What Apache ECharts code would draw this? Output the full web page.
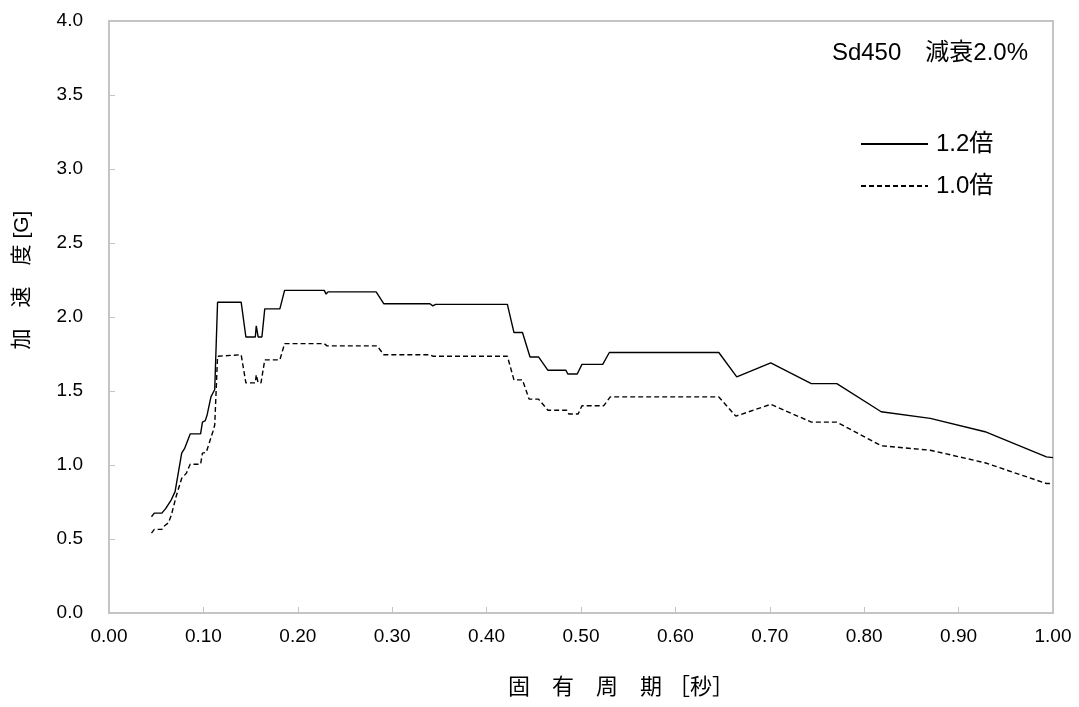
<!DOCTYPE html>
<html>
<head>
<meta charset="utf-8">
<script src="https://cdn.jsdelivr.net/npm/echarts@6/dist/echarts.min.js"></script>
<style>
  html, body { margin: 0; padding: 0; background: #fff; }
  #main { width: 1079px; height: 707px; }
</style>
</head>
<body>
<div id="main"></div>
<script>
// 1.2倍 curve
const periods12 = [0.045, 0.048, 0.056, 0.060, 0.062, 0.066, 0.070, 0.077, 0.080, 0.086,
  0.097, 0.099, 0.102, 0.104, 0.108, 0.112, 0.115, 0.140, 0.145, 0.155,
  0.156, 0.158, 0.162, 0.165, 0.181, 0.186, 0.228, 0.230, 0.232, 0.283,
  0.291, 0.305, 0.307, 0.309, 0.340, 0.343, 0.346, 0.422, 0.429, 0.438,
  0.446, 0.455, 0.465, 0.484, 0.486, 0.496, 0.501, 0.523, 0.530, 0.646,
  0.665, 0.701, 0.744, 0.771, 0.818, 0.870, 0.928, 0.993, 1.000];
const accel12 = [0.65, 0.675, 0.675, 0.705, 0.705, 0.765, 0.82, 1.08, 1.11, 1.21,
  1.21, 1.29, 1.30, 1.34, 1.46, 1.51, 2.10, 2.10, 1.865, 1.865,
  1.94, 1.865, 1.865, 2.055, 2.055, 2.18, 2.18, 2.155, 2.17, 2.17,
  2.09, 2.09, 2.095, 2.09, 2.09, 2.075, 2.085, 2.085, 1.895, 1.895,
  1.73, 1.73, 1.64, 1.64, 1.615, 1.615, 1.68, 1.68, 1.76, 1.76,
  1.595, 1.69, 1.55, 1.55, 1.36, 1.315, 1.225, 1.055, 1.05];

// 1.0倍 curve
const periods10 = [0.045, 0.048, 0.056, 0.059, 0.063, 0.066, 0.071, 0.077, 0.082, 0.086,
  0.097, 0.099, 0.103, 0.106, 0.110, 0.112, 0.115, 0.116, 0.140, 0.145,
  0.155, 0.156, 0.158, 0.161, 0.165, 0.181, 0.186, 0.228, 0.231, 0.284,
  0.291, 0.340, 0.343, 0.422, 0.429, 0.438, 0.445, 0.455, 0.465, 0.485,
  0.487, 0.497, 0.501, 0.524, 0.531, 0.646, 0.664, 0.701, 0.744, 0.771,
  0.818, 0.870, 0.928, 0.993, 1.000];
const accel10 = [0.54, 0.565, 0.565, 0.59, 0.61, 0.66, 0.785, 0.91, 0.945, 1.005,
  1.005, 1.08, 1.085, 1.145, 1.225, 1.27, 1.735, 1.745, 1.745, 1.555,
  1.555, 1.61, 1.555, 1.555, 1.71, 1.71, 1.82, 1.82, 1.805, 1.805,
  1.745, 1.745, 1.735, 1.735, 1.575, 1.575, 1.445, 1.445, 1.37, 1.37,
  1.345, 1.345, 1.40, 1.40, 1.46, 1.46, 1.33, 1.41, 1.29, 1.29,
  1.13, 1.10, 1.015, 0.875, 0.875];

const seriesNames = ["1.2倍", "1.0倍"];
const chartTitle = "Sd450\u3000減衰2.0%";
const xName = "固\u3000有\u3000周\u3000期 ［秒］";
const yName = "加\u3000速\u3000度 [G]";

var pairs12 = [];
for (var i = 0; i < periods12.length; i++) {
  pairs12.push([periods12[i], accel12[i]]);
}
var pairs10 = [];
for (var j = 0; j < periods10.length; j++) {
  pairs10.push([periods10[j], accel10[j]]);
}

const font = "'Liberation Sans', 'Noto Sans CJK JP', sans-serif";
const axisGray = "#c4c4c4";

const myChart = echarts.init(document.getElementById("main"));
var option = {
  animation: false,
  textStyle: { fontFamily: font, color: "#000" },
  title: {
    text: chartTitle,
    right: 46,
    top: 36,
    textStyle: { fontFamily: font, fontSize: 24, fontWeight: "normal", color: "#000" },
  },
  legend: {
    orient: "vertical",
    left: 855,
    top: 127,
    itemWidth: 67,
    itemHeight: 14,
    itemGap: 18,
    itemStyle: { opacity: 0 },
    textStyle: { fontFamily: font, fontSize: 24, color: "#000", padding: [0, 0, 0, 3] },
    data: seriesNames,
  },
  grid: {
    show: true,
    left: 109,
    right: 26,
    top: 21,
    bottom: 94,
    borderColor: axisGray,
    borderWidth: 2,
  },
  xAxis: {
    type: "value",
    min: 0,
    max: 1,
    interval: 0.1,
    name: xName,
    nameLocation: "middle",
    nameGap: 64,
    nameTextStyle: { fontFamily: font, fontSize: 22, color: "#000", padding: [0, 0, 0, 80] },
    axisLine: { show: true, lineStyle: { color: axisGray, width: 2 } },
    axisTick: { show: true, inside: true, length: 6, lineStyle: { color: axisGray, width: 1 } },
    axisLabel: {
      fontFamily: font,
      fontSize: 19,
      color: "#000",
      margin: 14,
      formatter: function (v) { return v.toFixed(2); },
    },
    splitLine: { show: false },
  },
  yAxis: {
    type: "value",
    min: 0,
    max: 4,
    interval: 0.5,
    name: yName,
    nameLocation: "middle",
    nameGap: 76,
    nameTextStyle: { fontFamily: font, fontSize: 21, color: "#000", padding: [0, 0, 0, 74] },
    axisLine: { show: true, lineStyle: { color: axisGray, width: 2 } },
    axisTick: { show: true, inside: true, length: 6, lineStyle: { color: axisGray, width: 1 } },
    axisLabel: {
      fontFamily: font,
      fontSize: 19,
      color: "#000",
      margin: 26,
      formatter: function (v) { return v.toFixed(1); },
    },
    splitLine: { show: false },
  },
  series: [
    {
      name: seriesNames[0],
      type: "line",
      data: pairs12,
      symbol: "none",
      lineStyle: { color: "#000", width: 1.4, type: "solid" },
      itemStyle: { color: "#000" },
    },
    {
      name: seriesNames[1],
      type: "line",
      data: pairs10,
      symbol: "none",
      lineStyle: { color: "#000", width: 1.4, type: [5, 3] },
      itemStyle: { color: "#000" },
    },
  ],
};
myChart.setOption(option);
</script>
</body>
</html>
